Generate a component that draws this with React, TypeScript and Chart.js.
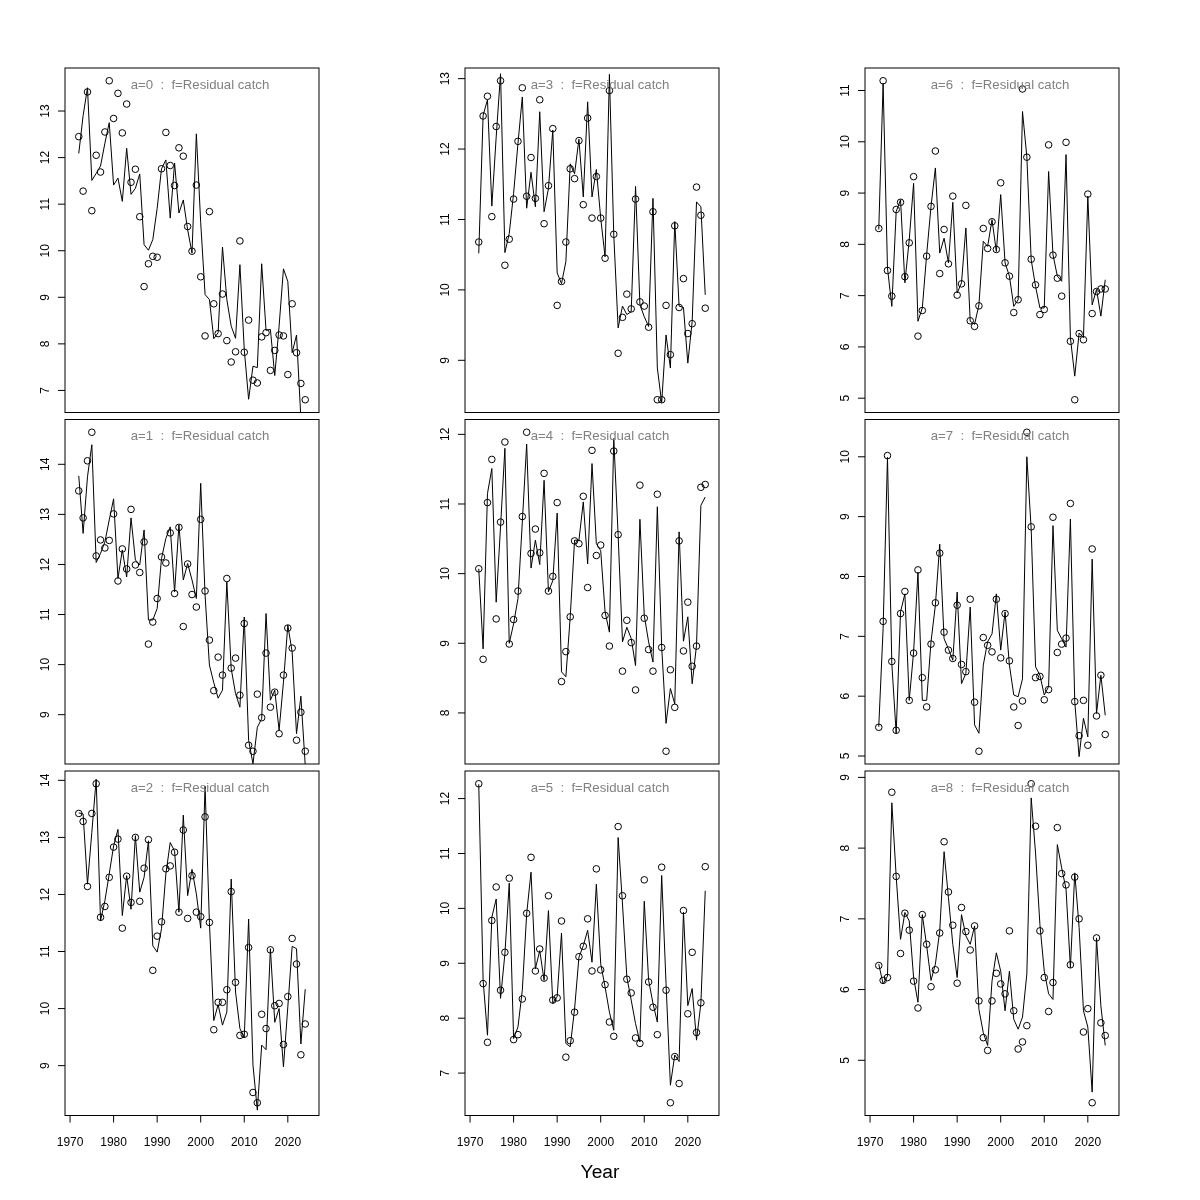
import React, { useEffect, useRef } from "react";
import { Chart, registerables } from "chart.js";

Chart.register(...registerables);

const YEARS = [1972,1973,1974,1975,1976,1977,1978,1979,1980,1981,1982,1983,1984,1985,1986,1987,1988,1989,1990,1991,1992,1993,1994,1995,1996,1997,1998,1999,2000,2001,2002,2003,2004,2005,2006,2007,2008,2009,2010,2011,2012,2013,2014,2015,2016,2017,2018,2019,2020,2021,2022,2023,2024];

const X_TICKS = [1970, 1980, 1990, 2000, 2010, 2020];

// a=0
const obs0 = [12.45,11.28,13.41,10.86,12.05,11.69,12.55,13.65,12.84,13.38,12.53,13.15,11.47,11.75,10.73,9.23,9.72,9.88,9.86,11.76,12.54,11.83,11.40,12.21,12.03,10.52,9.99,11.41,9.44,8.17,10.84,8.86,8.22,9.07,8.07,7.61,7.83,10.21,7.82,8.51,7.22,7.16,8.15,8.24,7.43,7.86,8.19,8.17,7.34,8.86,7.81,7.15,6.80];
const fit0 = [12.09,12.9,13.5,11.51,11.66,11.82,12.31,12.75,11.41,11.56,11.06,12.2,11.21,11.34,11.65,10.13,10.01,10.24,10.91,11.76,11.95,10.7,11.88,10.81,11.09,10.45,9.95,12.51,10.6,9.06,8.95,8.11,8.24,10.08,8.95,8.38,8.12,9.7,7.88,6.81,7.52,7.49,9.72,8.29,8.31,7.32,8.38,9.61,9.34,7.81,8.19,6.4,6.2];
const yTicks0 = [7, 8, 9, 10, 11, 12, 13];

// a=1
const obs1 = [13.47,12.93,14.07,14.64,12.17,12.49,12.33,12.48,13.01,11.67,12.31,11.91,13.10,11.99,11.84,12.45,10.41,10.85,11.32,12.15,12.03,12.63,11.42,12.74,10.76,12.01,11.40,11.15,12.90,11.47,10.49,9.48,10.15,9.79,11.72,9.93,10.13,9.39,10.82,8.39,8.27,9.41,8.94,10.23,9.15,9.45,8.62,9.79,10.73,10.33,8.49,9.05,8.27];
const fit1 = [13.77,12.62,13.75,14.39,12.04,12.22,12.45,12.89,13.31,11.72,12.29,11.75,12.93,12.09,11.99,12.69,10.89,10.89,11.12,12.12,12.52,12.75,11.45,12.79,11.69,12.02,11.69,11.32,13.62,11.39,9.99,9.64,9.33,9.49,11.65,9.92,9.42,9.15,10.95,8.49,8.02,8.75,8.92,11.02,9.29,9.49,8.69,9.65,10.79,10.25,8.62,9.37,7.99];
const yTicks1 = [9, 10, 11, 12, 13, 14];

// a=2
const obs2 = [13.42,13.28,12.14,13.42,13.94,11.60,11.79,12.30,12.83,12.97,11.41,12.32,11.86,13.00,11.88,12.46,12.96,10.67,11.27,11.52,12.45,12.50,12.74,11.69,13.13,11.58,12.33,11.69,11.61,13.36,11.51,9.63,10.11,10.11,10.33,12.05,10.46,9.53,9.55,11.07,8.53,8.35,9.90,9.65,11.03,10.05,10.09,9.37,10.21,11.23,10.78,9.19,9.73];
const fit2 = [13.43,13.41,12.18,13.09,14.02,11.54,11.89,12.36,12.85,13.14,11.63,12.33,11.74,13.03,12.04,12.30,12.94,11.10,10.99,11.40,12.36,12.91,12.76,11.69,13.39,11.98,12.44,12.01,11.41,13.90,11.51,9.79,10.07,9.71,9.94,12.27,10.29,9.65,9.49,11.57,9.01,8.22,9.36,9.28,11.05,9.76,10.00,8.98,10.03,11.09,11.05,9.38,10.34];
const yTicks2 = [9, 10, 11, 12, 13, 14];

// a=3
const obs3 = [10.68,12.47,12.75,11.04,12.32,12.97,10.35,10.72,11.29,12.11,12.87,11.33,11.88,11.30,12.70,10.94,11.48,12.29,9.78,10.12,10.68,11.72,11.58,12.12,11.21,12.44,11.02,11.61,11.02,10.45,12.83,10.79,9.10,9.61,9.94,9.73,11.29,9.83,9.77,9.47,11.11,8.44,8.44,9.78,9.08,10.91,9.75,10.16,9.38,9.52,11.46,11.06,9.74];
const fit3 = [10.52,12.48,12.70,11.19,12.17,13.07,10.53,10.80,11.37,12.08,12.74,11.16,11.67,11.18,12.53,11.11,11.44,12.27,10.24,10.09,10.40,11.79,11.65,12.14,11.32,12.67,11.32,11.71,11.02,10.47,13.06,10.78,9.46,9.77,9.65,9.69,11.47,9.79,9.62,9.48,11.30,8.89,8.40,9.36,8.89,10.97,9.77,9.75,8.96,9.55,11.25,11.18,9.93];
const yTicks3 = [9, 10, 11, 12, 13];

// a=4
const obs4 = [10.07,8.77,11.02,11.64,9.35,10.74,11.89,8.99,9.34,9.75,10.82,12.03,10.29,10.64,10.30,11.44,9.75,9.96,11.02,8.45,8.88,9.38,10.47,10.43,11.11,9.80,11.77,10.26,10.41,9.40,8.96,11.76,10.56,8.60,9.33,9.01,8.33,11.27,9.36,8.91,8.60,11.14,8.94,7.45,8.62,8.08,10.47,8.89,9.59,8.67,8.96,11.24,11.28];
const fit4 = [10.07,8.92,11.15,11.51,9.59,10.67,11.80,9.00,9.28,9.64,10.74,11.86,10.08,10.48,10.13,11.34,9.74,9.90,10.87,8.59,8.52,9.38,10.48,10.48,11.03,10.14,11.58,10.43,10.33,9.45,9.16,11.94,10.55,9.02,9.23,9.07,8.68,10.78,9.40,9.02,8.73,10.96,8.95,7.85,8.35,8.13,10.60,9.03,9.38,8.42,8.97,10.98,11.10];
const yTicks4 = [8, 9, 10, 11, 12];

// a=5
const obs5 = [12.27,8.63,7.56,9.78,10.39,8.51,9.20,10.55,7.61,7.70,8.35,9.91,10.93,8.86,9.26,8.73,10.23,8.33,8.37,9.77,7.29,7.59,8.11,9.12,9.31,9.81,8.86,10.72,8.88,8.61,7.93,7.67,11.49,10.23,8.71,8.46,7.64,7.54,10.52,8.66,8.20,7.70,10.75,8.51,6.46,7.30,6.81,9.96,8.08,9.20,7.74,8.28,10.76];
const fit5 = [12.26,8.69,7.69,9.84,10.17,8.36,9.17,10.46,7.63,7.84,8.51,9.90,10.66,8.90,9.23,8.69,9.96,8.27,8.39,9.55,7.54,7.48,8.17,9.11,9.32,9.60,9.02,10.44,8.99,8.57,8.11,7.78,11.29,10.08,8.75,8.33,7.90,7.57,10.13,8.69,8.27,7.93,10.60,8.63,6.78,7.33,7.21,9.93,8.23,8.54,7.60,8.27,10.32];
const yTicks5 = [7, 8, 9, 10, 11, 12];

// a=6
const obs6 = [8.31,11.19,7.49,6.99,8.68,8.82,7.37,8.03,9.32,6.21,6.71,7.77,8.74,9.82,7.43,8.29,7.62,8.94,7.01,7.23,8.76,6.51,6.40,6.80,8.31,7.92,8.44,7.90,9.20,7.64,7.38,6.67,6.92,11.03,9.70,7.71,7.21,6.63,6.73,9.94,7.79,7.34,6.99,9.99,6.11,4.97,6.26,6.14,8.98,6.65,7.08,7.13,7.13];
const fit6 = [8.29,11.14,7.54,6.79,8.64,8.87,7.25,8.09,9.19,6.50,6.76,7.80,8.74,9.49,7.83,8.12,7.64,8.82,7.05,7.25,8.32,6.50,6.44,6.82,8.06,7.96,8.48,7.86,8.97,7.64,7.38,6.79,6.92,10.59,9.71,7.70,7.18,6.76,6.76,9.42,7.80,7.38,7.28,9.75,6.18,5.43,6.27,6.18,8.94,6.82,7.12,6.60,7.31];
const yTicks6 = [5, 6, 7, 8, 9, 10, 11];

// a=7
const obs7 = [5.48,7.25,10.02,6.58,5.43,7.38,7.75,5.93,6.72,8.11,6.31,5.82,6.87,7.56,8.39,7.07,6.77,6.63,7.52,6.53,6.41,7.62,5.90,5.08,6.98,6.85,6.74,7.62,6.64,7.38,6.59,5.82,5.51,5.92,10.41,8.83,6.31,6.33,5.94,6.11,8.99,6.73,6.87,6.97,9.22,5.91,5.34,5.93,5.18,8.46,5.67,6.35,5.36];
const fit7 = [5.49,7.13,9.99,6.54,5.38,7.41,7.71,5.93,6.74,8.07,5.93,5.93,6.91,7.52,8.54,6.96,6.79,6.60,7.74,6.21,6.38,7.49,5.52,5.38,6.52,6.91,7.04,7.71,6.77,7.41,6.52,6.02,5.99,6.29,10.00,8.79,6.49,6.35,6.02,6.16,8.85,7.10,6.96,6.82,8.96,5.91,4.99,5.63,5.32,8.29,5.71,6.35,5.68];
const yTicks7 = [5, 6, 7, 8, 9, 10];

// a=8
const obs8 = [6.34,6.13,6.17,8.79,7.60,6.51,7.08,6.84,6.12,5.74,7.06,6.64,6.04,6.28,6.80,8.09,7.38,6.91,6.09,7.16,6.82,6.56,6.90,5.84,5.32,5.14,5.84,6.23,6.08,5.94,6.83,5.70,5.16,5.26,5.49,8.91,8.31,6.83,6.17,5.69,6.10,8.29,7.64,7.48,6.35,7.59,7.00,5.40,5.73,4.40,6.73,5.53,5.35];
const fit8 = [6.36,6.08,6.19,8.64,7.60,6.71,7.09,6.97,6.17,5.82,7.06,6.62,6.13,6.36,6.83,7.95,7.30,6.64,6.17,7.06,6.76,6.64,6.90,5.72,5.39,5.21,6.12,6.52,6.26,5.70,6.26,5.58,5.44,5.61,6.22,8.71,7.93,6.92,6.26,5.94,5.86,8.05,7.72,7.42,6.31,7.65,6.88,5.70,5.47,4.55,6.73,5.77,5.21];
const yTicks8 = [5, 6, 7, 8, 9];

const PANELS = [
  { label: "a=0  :  f=Residual catch", obs: obs0, fit: fit0, yTicks: yTicks0, row: 0, col: 0 },
  { label: "a=1  :  f=Residual catch", obs: obs1, fit: fit1, yTicks: yTicks1, row: 1, col: 0 },
  { label: "a=2  :  f=Residual catch", obs: obs2, fit: fit2, yTicks: yTicks2, row: 2, col: 0 },
  { label: "a=3  :  f=Residual catch", obs: obs3, fit: fit3, yTicks: yTicks3, row: 0, col: 1 },
  { label: "a=4  :  f=Residual catch", obs: obs4, fit: fit4, yTicks: yTicks4, row: 1, col: 1 },
  { label: "a=5  :  f=Residual catch", obs: obs5, fit: fit5, yTicks: yTicks5, row: 2, col: 1 },
  { label: "a=6  :  f=Residual catch", obs: obs6, fit: fit6, yTicks: yTicks6, row: 0, col: 2 },
  { label: "a=7  :  f=Residual catch", obs: obs7, fit: fit7, yTicks: yTicks7, row: 1, col: 2 },
  { label: "a=8  :  f=Residual catch", obs: obs8, fit: fit8, yTicks: yTicks8, row: 2, col: 2 },
];

const FONT = '"Liberation Sans", Arial, Helvetica, sans-serif';
const COL_LEFT = [65, 465, 865];
const ROW_TOP = [68, 419.5, 771];
const BOX_W = 254;
const BOX_H = 344.5;
const CANVAS_W = 400;
const CANVAS_H = 400;
const X_MIN = 1968.84;
const X_MAX = 2027.16;

function Panel({ p }: { p: any }) {
  const ref = useRef<HTMLCanvasElement | null>(null);
  const canvasLeft = COL_LEFT[p.col] - 65;
  const canvasTop = Math.floor(ROW_TOP[p.row]) - 20;
  const padTop = ROW_TOP[p.row] - canvasTop;
  const padBottom = CANVAS_H - padTop - BOX_H;
  const isBottom = p.row === 2;

  useEffect(() => {
    if (!ref.current) return;
    const lo = Math.min(...p.obs);
    const hi = Math.max(...p.obs);
    const ext = (hi - lo) * 0.04;

    const deco = {
      id: "rdeco",
      afterDraw(chart: any) {
        const { ctx, chartArea: a, scales } = chart;
        const xs = scales.x;
        const ys = scales.y;
        ctx.save();
        ctx.strokeStyle = "#000";
        ctx.lineWidth = 1;
        ctx.strokeRect(a.left, a.top, a.right - a.left, a.bottom - a.top);
        ctx.fillStyle = "#000";
        ctx.font = `12px ${FONT}`;
        for (const t of p.yTicks) {
          const py = ys.getPixelForValue(t);
          ctx.beginPath();
          ctx.moveTo(a.left, py);
          ctx.lineTo(a.left - 7, py);
          ctx.stroke();
          ctx.save();
          ctx.translate(a.left - 15.7, py);
          ctx.rotate(-Math.PI / 2);
          ctx.textAlign = "center";
          ctx.textBaseline = "alphabetic";
          ctx.fillText(String(t), 0, 0);
          ctx.restore();
        }
        if (isBottom) {
          const x0 = xs.getPixelForValue(X_TICKS[0]);
          const x1 = xs.getPixelForValue(X_TICKS[X_TICKS.length - 1]);
          ctx.beginPath();
          ctx.moveTo(x0, a.bottom);
          ctx.lineTo(x1, a.bottom);
          ctx.stroke();
          ctx.textAlign = "center";
          ctx.textBaseline = "alphabetic";
          for (const t of X_TICKS) {
            const px = xs.getPixelForValue(t);
            ctx.beginPath();
            ctx.moveTo(px, a.bottom);
            ctx.lineTo(px, a.bottom + 7);
            ctx.stroke();
            ctx.fillText(String(t), px, a.bottom + 30.5);
          }
        }
        ctx.fillStyle = "#808080";
        ctx.font = `13.2px ${FONT}`;
        ctx.textAlign = "center";
        ctx.textBaseline = "alphabetic";
        ctx.fillText(p.label, a.left + 135, a.top + 20.5);
        ctx.restore();
      },
    };

    const chart = new Chart(ref.current, {
      type: "line",
      data: {
        datasets: [
          {
            data: YEARS.map((yr, i) => ({ x: yr, y: p.obs[i] })),
            showLine: false,
            pointRadius: 3.3,
            pointHoverRadius: 3.3,
            pointBorderWidth: 1,
            borderColor: "#000",
            pointBorderColor: "#000",
            pointBackgroundColor: "rgba(0,0,0,0)",
            backgroundColor: "rgba(0,0,0,0)",
            clip: false,
          },
          {
            data: YEARS.map((yr, i) => ({ x: yr, y: p.fit[i] })),
            borderColor: "#000",
            borderWidth: 1,
            pointRadius: 0,
            pointHoverRadius: 0,
            tension: 0,
            fill: false,
          },
        ],
      },
      options: {
        animation: false,
        responsive: false,
        devicePixelRatio: 1,
        events: [],
        layout: { padding: { left: 65, right: CANVAS_W - 65 - BOX_W, top: padTop, bottom: padBottom } },
        plugins: { legend: { display: false }, tooltip: { enabled: false }, title: { display: false } },
        scales: {
          x: { type: "linear", min: X_MIN, max: X_MAX, display: false },
          y: { type: "linear", min: lo - ext, max: hi + ext, display: false },
        },
      },
      plugins: [deco],
    } as any);
    return () => chart.destroy();
  }, []);

  return (
    <canvas
      ref={ref}
      width={CANVAS_W}
      height={CANVAS_H}
      style={{ position: "absolute", left: canvasLeft, top: canvasTop, width: CANVAS_W, height: CANVAS_H }}
    />
  );
}

export default function App() {
  return (
    <div style={{ position: "absolute", left: 0, top: 0, width: 1200, height: 1200, background: "#fff" }}>
      {PANELS.map((p, i) => (
        <Panel key={i} p={p} />
      ))}
      <div
        style={{
          position: "absolute",
          left: 500,
          width: 200,
          top: 1162,
          textAlign: "center",
          fontFamily: FONT,
          fontSize: "19.2px",
          lineHeight: "20px",
          color: "#000",
        }}
      >
        Year
      </div>
    </div>
  );
}
